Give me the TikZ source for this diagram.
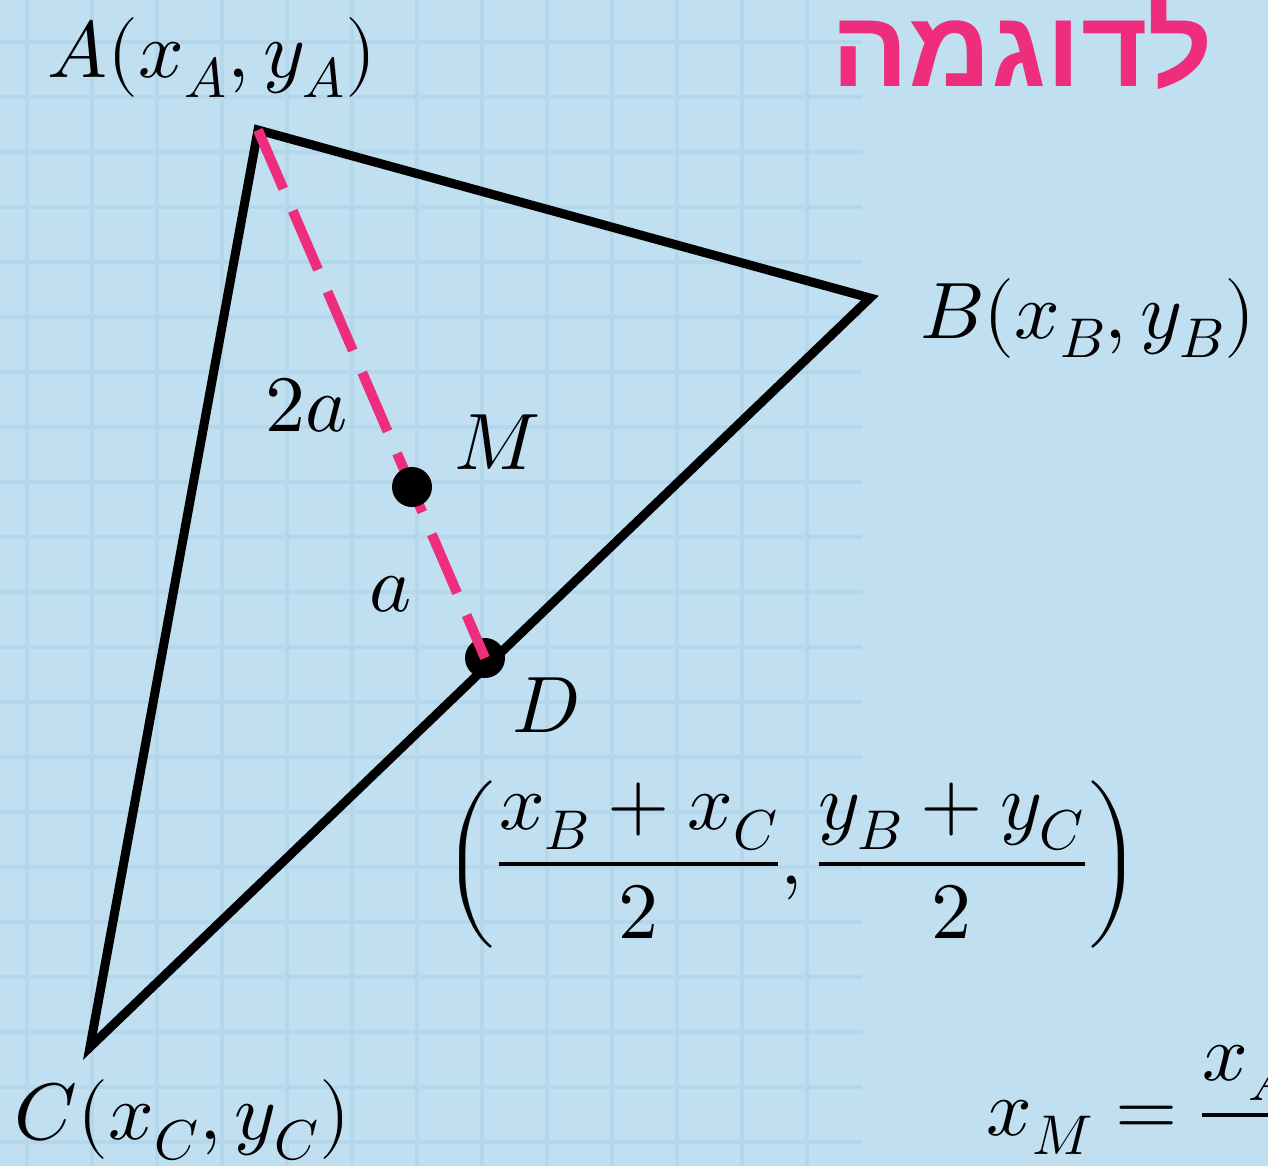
\documentclass[tikz,border=0pt]{standalone}
\usepackage{amsmath}
\usepackage{fontspec}
\usepackage{unicode-math}
\setmathfont{Latin Modern Math}
\newfontfamily\hebfont[Script=Hebrew]{Liberation Sans}
\TeXXeTstate=1
\usepackage{tikz}
\usetikzlibrary{positioning}
\definecolor{bgblue}{HTML}{C0E0F1}
\definecolor{gridblue}{HTML}{B5D7EB}
\definecolor{hotpink}{HTML}{EE2D7D}

\begin{document}
\begin{tikzpicture}[x=0.5pt, y=-0.5pt,
  lbl/.style={font=\fontsize{40}{46}\selectfont, inner sep=0pt},
  dot/.style={circle, fill=black, minimum size=20pt, inner sep=0pt},
  side/.style={line width=4.5pt},
  med/.style={hotpink, line width=5pt, dash pattern=on 32pt off 12pt}
]
\useasboundingbox (0,0) rectangle (1268,1166);
\clip (0,0) rectangle (1268,1166);
\fill[bgblue] (0,0) rectangle (1268,1166);
% faint squared paper on the left
\begin{scope}
\clip (0,0) rectangle (862,1166);
\foreach \gx in {27,92,...,870} { \draw[gridblue, line width=2pt] (\gx,0) -- (\gx,1166); }
\foreach \gy in {42,97,...,1166} { \draw[gridblue, line width=2pt] (0,\gy) -- (862,\gy); }
\end{scope}
\coordinate (A) at (258,130);
\coordinate (B) at (870,298);
\coordinate (C) at (90,1047);
\draw[side] (A) -- (B) -- (C) -- cycle;
\node[dot] (D) at (485,658) {};
\draw[med] (A) -- (D.center);
\node[dot] (M) at (412,487) {};
\node[lbl] (labA) at (212,58) {$A(x_A,y_A)$};
\node[lbl, anchor=west] (labB) at (920,318) {$B(x_B,y_B)$};
\node[lbl, anchor=west] (labC) at (14,1120) {$C(x_C,y_C)$};
\node[lbl] (labM) at (497,442) {$M$};
\node[lbl] (labD) at (546,705) {$D$};
\node[lbl] (twoa) at (307,405) {$2a$};
\node[lbl] (onea) at (391,594) {$a$};
\node[lbl] (midD) at (792,864) {$\left(\dfrac{x_B+x_C}{2},\dfrac{y_B+y_C}{2}\right)$};
\node[font=\hebfont\bfseries\fontsize{54}{60}\selectfont, text=hotpink, anchor=west, inner sep=0pt, xscale=1.06] (title) at (831,44) {\beginR לדוגמה\endR};
\node[lbl, anchor=west] (xM) at (986,1113) {$x_M=\dfrac{x_A+x_B+x_C}{3}$};
\end{tikzpicture}
\end{document}
